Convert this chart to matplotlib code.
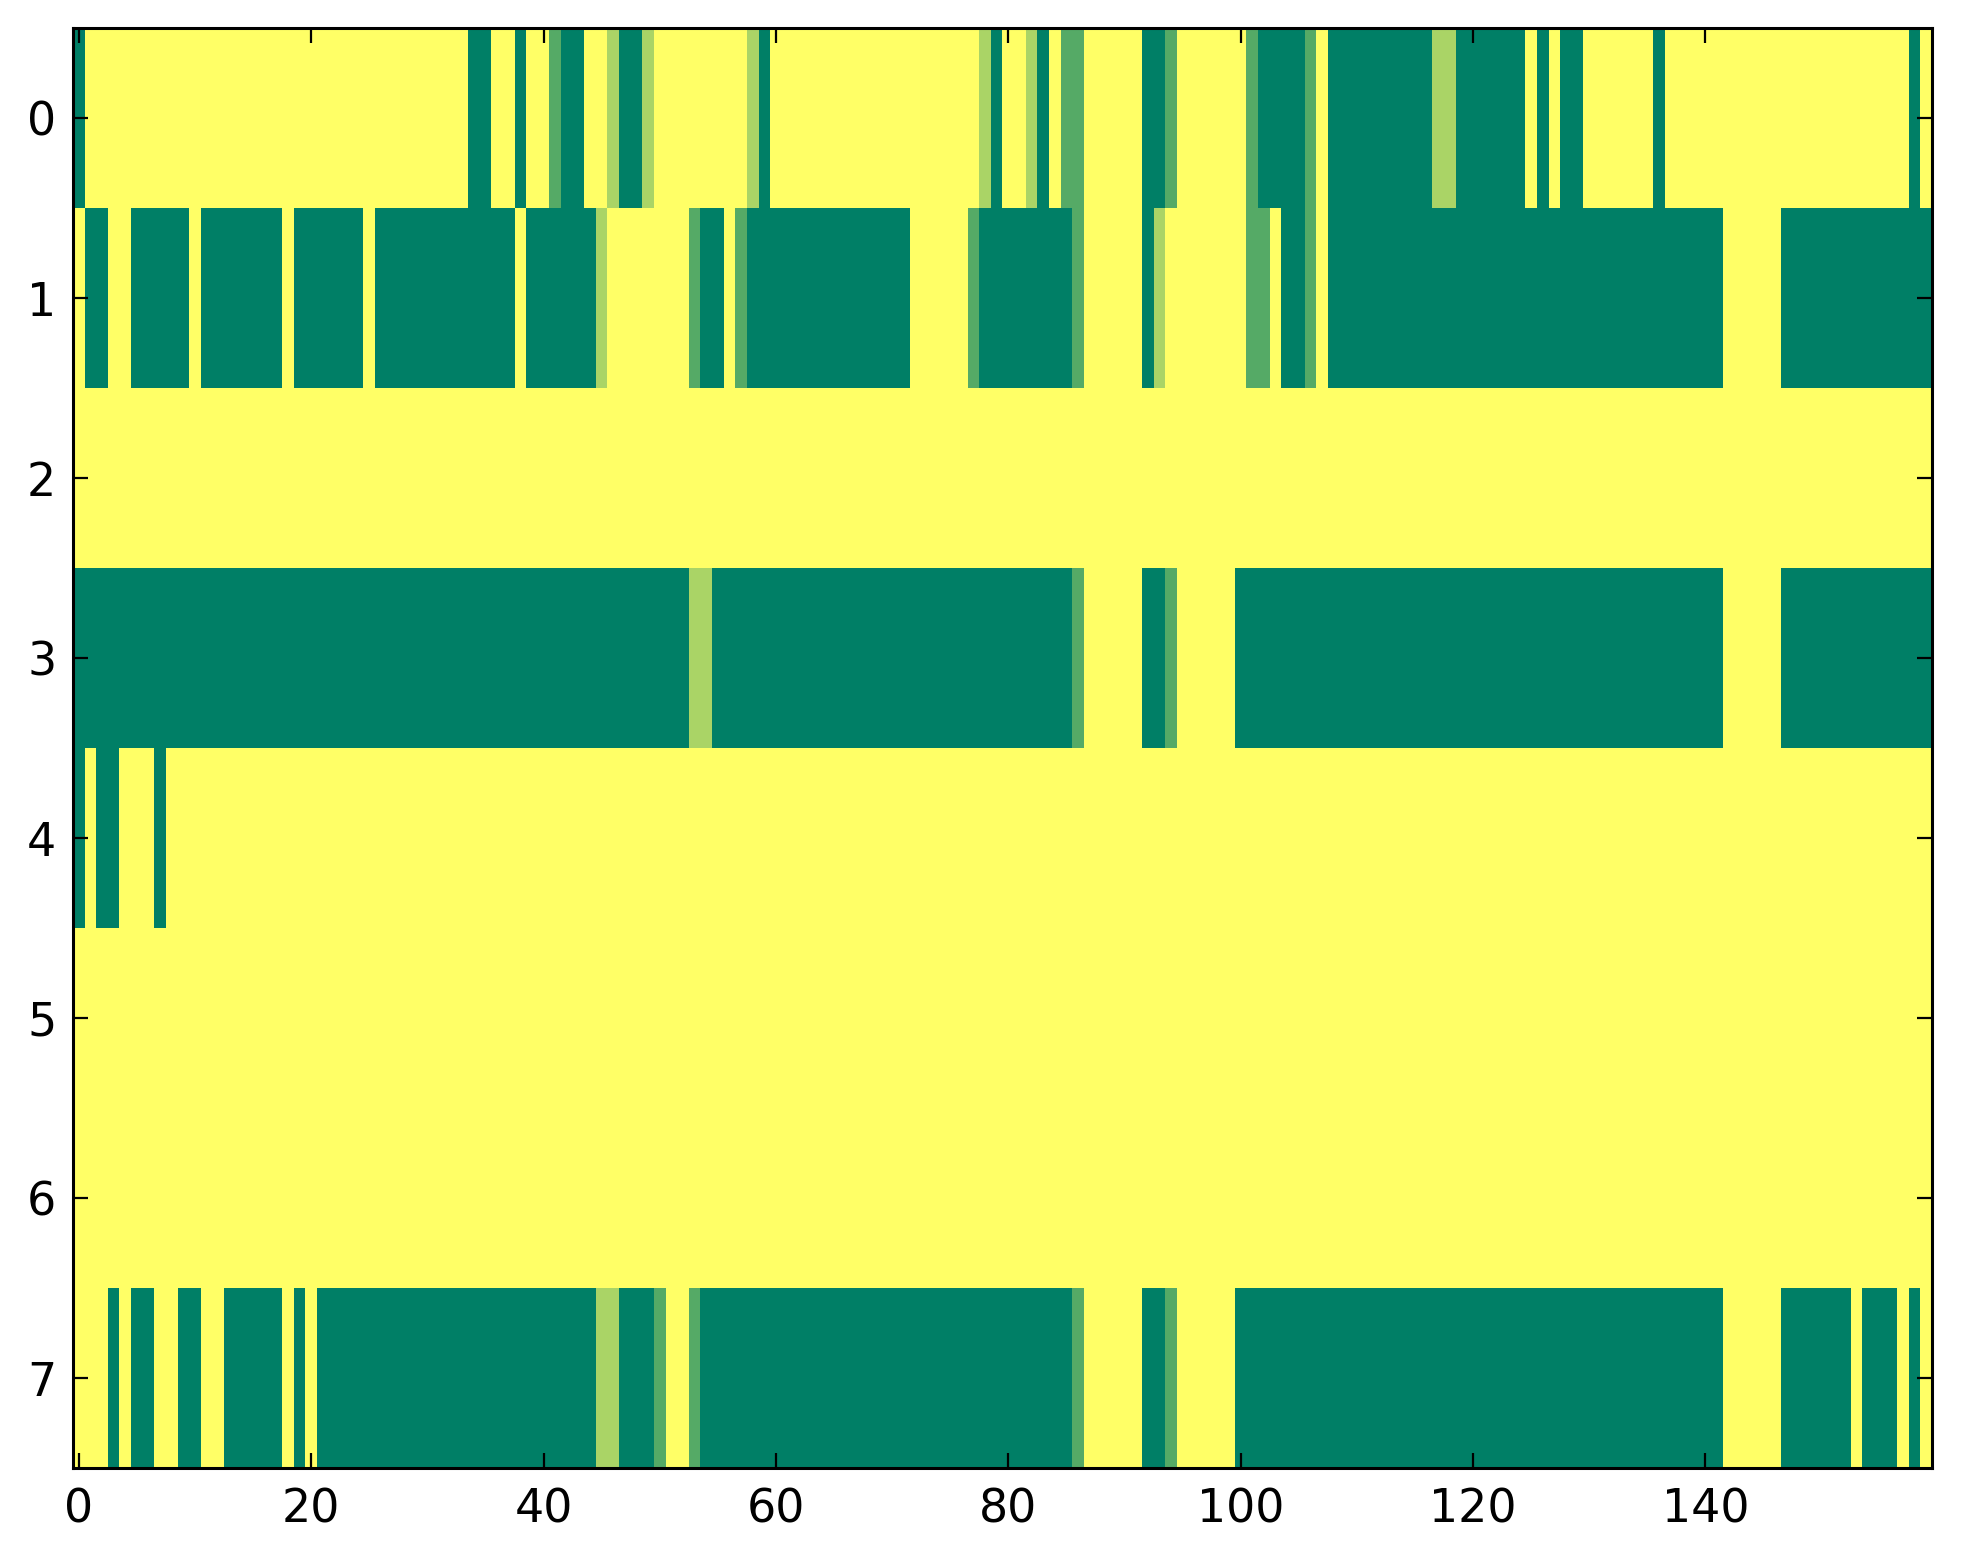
import numpy as np
import matplotlib
matplotlib.use('Agg')
import matplotlib.pyplot as plt

# levels in thirds: 0 = none (yellow), 3 = full (dark green)
row0 = [3,0,0,0,0,0,0,0,0,0, 0,0,0,0,0,0,0,0,0,0,
        0,0,0,0,0,0,0,0,0,0, 0,0,0,0,3,3,0,0,3,0,
        0,2,3,3,0,0,1,3,3,1, 0,0,0,0,0,0,0,0,1,3,
        0,0,0,0,0,0,0,0,0,0, 0,0,0,0,0,0,0,0,1,3,
        0,0,1,3,0,2,2,0,0,0, 0,0,3,3,2,0,0,0,0,0,
        0,2,3,3,3,3,2,0,3,3, 3,3,3,3,3,3,3,1,1,3,
        3,3,3,3,3,0,3,0,3,3, 0,0,0,0,0,0,3,0,0,0,
        0,0,0,0,0,0,0,0,0,0, 0,0,0,0,0,0,0,0,3,0]
row1 = [0,3,3,0,0,3,3,3,3,3, 0,3,3,3,3,3,3,3,0,3,
        3,3,3,3,3,0,3,3,3,3, 3,3,3,3,3,3,3,3,0,3,
        3,3,3,3,3,1,0,0,0,0, 0,0,0,2,3,3,0,2,3,3,
        3,3,3,3,3,3,3,3,3,3, 3,3,0,0,0,0,0,2,3,3,
        3,3,3,3,3,3,2,0,0,0, 0,0,3,1,0,0,0,0,0,0,
        0,2,2,0,3,3,2,0,3,3, 3,3,3,3,3,3,3,3,3,3,
        3,3,3,3,3,3,3,3,3,3, 3,3,3,3,3,3,3,3,3,3,
        3,3,0,0,0,0,0,3,3,3, 3,3,3,3,3,3,3,3,3,3]
row2 = [0] * 160
row3 = [3,3,3,3,3,3,3,3,3,3, 3,3,3,3,3,3,3,3,3,3,
        3,3,3,3,3,3,3,3,3,3, 3,3,3,3,3,3,3,3,3,3,
        3,3,3,3,3,3,3,3,3,3, 3,3,3,1,1,3,3,3,3,3,
        3,3,3,3,3,3,3,3,3,3, 3,3,3,3,3,3,3,3,3,3,
        3,3,3,3,3,3,2,0,0,0, 0,0,3,3,2,0,0,0,0,0,
        3,3,3,3,3,3,3,3,3,3, 3,3,3,3,3,3,3,3,3,3,
        3,3,3,3,3,3,3,3,3,3, 3,3,3,3,3,3,3,3,3,3,
        3,3,0,0,0,0,0,3,3,3, 3,3,3,3,3,3,3,3,3,3]
row4 = [3,0,3,3,0,0,0,3,0,0] + [0] * 150
row5 = [0] * 160
row6 = [0] * 160
row7 = [0,0,0,3,0,3,3,0,0,3, 3,0,0,3,3,3,3,3,0,3,
        0,3,3,3,3,3,3,3,3,3, 3,3,3,3,3,3,3,3,3,3,
        3,3,3,3,3,1,1,3,3,3, 2,0,0,2,3,3,3,3,3,3,
        3,3,3,3,3,3,3,3,3,3, 3,3,3,3,3,3,3,3,3,3,
        3,3,3,3,3,3,2,0,0,0, 0,0,3,3,2,0,0,0,0,0,
        3,3,3,3,3,3,3,3,3,3, 3,3,3,3,3,3,3,3,3,3,
        3,3,3,3,3,3,3,3,3,3, 3,3,3,3,3,3,3,3,3,3,
        3,3,0,0,0,0,0,3,3,3, 3,3,3,0,3,3,3,0,3,0]

data = np.array([row0, row1, row2, row3, row4, row5, row6, row7]) / 3.0

xticks = [0, 20, 40, 60, 80, 100, 120, 140]
yticks = [0, 1, 2, 3, 4, 5, 6, 7]

dpi = 200
fig = plt.figure(figsize=(1963 / dpi, 1564 / dpi), dpi=dpi)
ax = fig.add_axes([73 / 1963, 1 - 1468 / 1564, (1932 - 73) / 1963, (1468 - 28) / 1564])

ax.imshow(data, cmap='summer_r', vmin=0, vmax=1, aspect='auto', interpolation='nearest')

ax.set_xticks(xticks)
ax.set_yticks(yticks)
ax.tick_params(direction='in', top=True, right=True, length=5.4, width=0.8,
               labelsize=16.5, pad=7)
ax.tick_params(axis='y', pad=6)
for s in ax.spines.values():
    s.set_linewidth(1.1)

fig.savefig('out.png', dpi=dpi, facecolor='white')
